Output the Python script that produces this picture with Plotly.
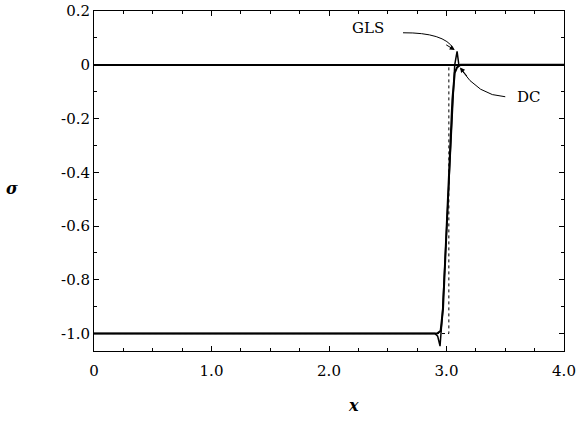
import plotly.graph_objects as go

# GLS solution
gls_x = [0.0, 2.90, 2.925, 2.945, 2.965, 3.05, 3.07, 3.09, 3.105, 3.13, 4.0]
gls_y = [-1.0, -1.0, -1.01, -1.047, -0.93, -0.13, 0.0, 0.05, 0.0, 0.0, 0.0]

# DC solution
dc_x = [0.0, 2.92, 2.95, 2.97, 3.05, 3.07, 3.09, 3.12, 4.0]
dc_y = [-1.0, -1.0, -0.99, -0.91, -0.13, -0.03, -0.01, 0.0, 0.0]

# exact solution (dotted)
ex_x = [0.0, 3.02, 3.02, 4.0]
ex_y = [-1.0, -1.0, 0.0, 0.0]

x_ticks = [0, 1, 2, 3, 4]
x_labels = ["0", "1.0", "2.0", "3.0", "4.0"]
y_ticks = [0.2, 0.0, -0.2, -0.4, -0.6, -0.8, -1.0]
y_labels = ["0.2", "0", "-0.2", "-0.4", "-0.6", "-0.8", "-1.0"]

FONT = "DejaVu Serif"

fig = go.Figure()
fig.add_trace(go.Scatter(x=ex_x, y=ex_y, mode="lines",
                         line=dict(color="black", width=1, dash="dot"), showlegend=False))
fig.add_trace(go.Scatter(x=dc_x, y=dc_y, mode="lines",
                         line=dict(color="black", width=2), showlegend=False))
fig.add_trace(go.Scatter(x=gls_x, y=gls_y, mode="lines",
                         line=dict(color="black", width=1.5), showlegend=False))

axis_common = dict(showline=True, linecolor="black", linewidth=1, mirror="ticks",
                   ticks="inside", tickcolor="black", ticklen=5, showgrid=False,
                   automargin=False,
                   tickfont=dict(family=FONT, size=15, color="black"))

fig.update_xaxes(range=[0, 4], tickvals=x_ticks, ticktext=x_labels, zeroline=False,
                 ticklabelstandoff=6,
                 minor=dict(dtick=0.25, tick0=0, ticks="inside", ticklen=3, tickcolor="black"),
                 **axis_common)
fig.update_yaxes(range=[-1.065, 0.2], tickvals=y_ticks, ticktext=y_labels,
                 zeroline=True, zerolinecolor="black", zerolinewidth=1.5,
                 minor=dict(dtick=0.1, tick0=0, ticks="inside", ticklen=3, tickcolor="black"),
                 **axis_common)

# curved leader lines
fig.add_shape(type="path", xref="x", yref="y",
              path="M 2.63,0.119 Q 2.98,0.12 3.06,0.06",
              line=dict(color="black", width=1))
fig.add_shape(type="path", xref="x", yref="y",
              path="M 3.50,-0.119 Q 3.27,-0.115 3.12,-0.015",
              line=dict(color="black", width=1))

annotations = [
    dict(x=3.07, y=0.055, xref="x", yref="y", ax=-10, ay=-6, text="", showarrow=True,
         arrowhead=2, arrowsize=1, arrowwidth=1, arrowcolor="black"),
    dict(x=3.115, y=-0.01, xref="x", yref="y", ax=8, ay=10, text="", showarrow=True,
         arrowhead=2, arrowsize=1, arrowwidth=1, arrowcolor="black"),
    dict(x=2.33, y=0.138, xref="x", yref="y", text="GLS", showarrow=False,
         font=dict(family=FONT, size=15, color="black")),
    dict(x=3.70, y=-0.12, xref="x", yref="y", text="DC", showarrow=False,
         font=dict(family=FONT, size=15, color="black")),
    dict(x=0.553, y=-0.159, xref="paper", yref="paper", yanchor="middle", xanchor="center",
         text="<b><i>x</i></b>", showarrow=False,
         font=dict(family=FONT, size=16, color="black")),
    dict(x=-0.174, y=0.479, xref="paper", yref="paper", yanchor="middle", xanchor="center",
         text="<b><i>σ</i></b>", showarrow=False,
         font=dict(family=FONT, size=16, color="black")),
]
fig.update_layout(width=577, height=425, margin=dict(l=94, r=13, t=11, b=74),
                  plot_bgcolor="white", paper_bgcolor="white",
                  annotations=annotations, showlegend=False)

fig.write_html("out.html")
